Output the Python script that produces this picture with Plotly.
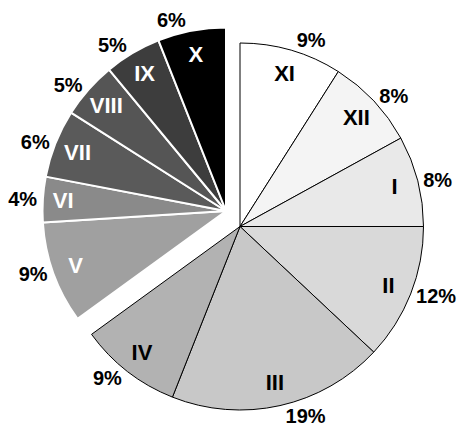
import plotly.graph_objects as go

# Monthly shares, clockwise from 12 o'clock
months = ["XI", "XII", "I", "II", "III", "IV", "V", "VI", "VII", "VIII", "IX", "X"]
shares = [9, 8, 8, 12, 19, 9, 9, 4, 6, 5, 5, 6]
greys = ["#ffffff", "#f4f4f4", "#e9e9e9", "#d9d9d9", "#c8c8c8", "#b2b2b2",
         "#a0a0a0", "#8a8a8a", "#5a5a5a", "#555555", "#3d3d3d", "#000000"]
label_colors = ["black"] * 6 + ["white"] * 6
# the second half of the year is drawn as a detached block
detached = [False] * 6 + [True] * 6

W, H = 457, 431
R = 183.5
main_center = (240, 226.5)
block_center = (226, 211)

FONT = "Liberation Sans, Arial, sans-serif"
NAME_SIZE = 22
PCT_SIZE = 20
CLEAR = "rgba(0,0,0,0)"


def domain(center):
    cx, cy = center
    return dict(x=[(cx - R) / W, (cx + R) / W],
                y=[1 - (cy + R) / H, 1 - (cy - R) / H])


def group_traces(center, in_group, line_color, line_width):
    common = dict(values=shares, labels=months, sort=False, direction="clockwise",
                  rotation=0, domain=domain(center), showlegend=False,
                  hoverinfo="skip", automargin=False)
    # filled wedges
    traces = [go.Pie(
        **common,
        marker=dict(colors=[c if g else CLEAR for c, g in zip(greys, in_group)],
                    line=dict(color=[line_color if g else CLEAR for g in in_group],
                              width=[line_width if g else 0 for g in in_group])),
        textinfo="none",
    )]
    # month names, kept towards the rim by a transparent ring
    traces.append(go.Pie(
        **common,
        hole=0.74,
        marker=dict(colors=[CLEAR] * len(shares), line=dict(width=0)),
        text=[m if g else "" for m, g in zip(months, in_group)],
        textinfo="text", textposition="inside", insidetextorientation="horizontal",
        insidetextfont=dict(family=FONT, size=NAME_SIZE, weight="bold",
                            color=label_colors),
    ))
    # percentage labels on alternating slices so neighbours never get nudged
    for parity in (0, 1):
        traces.append(go.Pie(
            **common,
            marker=dict(colors=[CLEAR] * len(shares), line=dict(width=0)),
            text=[f"{v}%" if g and i % 2 == parity else ""
                  for i, (v, g) in enumerate(zip(shares, in_group))],
            textinfo="text", textposition="outside",
            outsidetextfont=dict(family=FONT, size=PCT_SIZE, weight="bold",
                                 color="black"),
        ))
    return traces


fig = go.Figure()
fig.add_traces(group_traces(main_center, [not d for d in detached], "black", 1))
fig.add_traces(group_traces(block_center, detached, "white", 2))

fig.update_layout(
    width=W, height=H,
    margin=dict(l=0, r=0, t=0, b=0, autoexpand=False),
    paper_bgcolor="white", plot_bgcolor="white",
    font=dict(family=FONT, size=PCT_SIZE, color="black", weight="bold"),
)

fig.write_html("out.html")
